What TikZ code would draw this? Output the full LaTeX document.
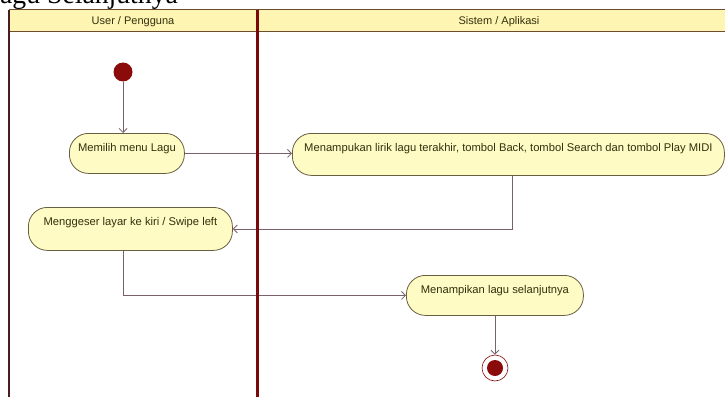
\documentclass[tikz,border=0pt]{standalone}
\usepackage{fontspec}
\setmainfont{Liberation Sans}
\newfontfamily\titlefont{Liberation Serif}
\usetikzlibrary{arrows.meta,calc}

\definecolor{headfill}{RGB}{255,245,178}
\definecolor{headline}{RGB}{110,76,48}
\definecolor{actfill}{RGB}{255,251,196}
\definecolor{actline}{RGB}{104,94,64}
\definecolor{acttext}{RGB}{50,48,14}
\definecolor{flowline}{RGB}{122,96,108}
\definecolor{nodered}{RGB}{139,10,10}
\definecolor{laneline}{RGB}{122,10,10}
\definecolor{edgeline}{RGB}{74,30,30}

\begin{document}
\begin{tikzpicture}[x=1pt,y=-1pt,
  act/.style={draw=actline, fill=actfill, line width=0.8pt, rounded corners=19pt,
    font=\fontsize{11.2}{13}\selectfont, text=acttext, anchor=north west,
    inner xsep=0pt, inner ysep=0pt, text height=18pt},
  flow/.style={draw=flowline, line width=0.8pt, -{Straight Barb[length=4pt,width=8pt]}},
  startdot/.style={circle, fill=nodered, minimum size=19pt, inner sep=0pt},
  endring/.style={circle, draw=nodered, line width=0.6pt, fill=white, minimum size=26pt, inner sep=0pt},
  enddot/.style={circle, fill=nodered, minimum size=16pt, inner sep=0pt},
  lanehead/.style={font=\fontsize{11}{13}\selectfont, text=acttext, inner sep=0pt}]
\useasboundingbox (0,0) rectangle (725,396);

% caption line above the diagram
\node[font=\titlefont\fontsize{27.7}{30}\selectfont, anchor=base west, inner sep=0pt]
  (caption) at (0,4) {agu Selanjutnya};

% swimlane header band
\path[draw=headline, line width=1pt, fill=headfill] (9,10) rectangle (732,32);
\node[lanehead] (userlane) at (133,21.5) {User / Pengguna};
\node[lanehead] (syslane) at (499,21.5) {Sistem / Aplikasi};

% activities
\node[act, minimum width=115pt, text depth=22pt] (a1) at (69,133) {Memilih menu Lagu};
\node[act, minimum width=432pt, text depth=24pt] (a2) at (292,133)
  {Menampukan lirik lagu terakhir, tombol Back, tombol Search dan tombol Play MIDI};
\node[act, minimum width=204pt, text depth=25pt] (a3) at (28,207) {Menggeser layar ke kiri / Swipe left};
\node[act, minimum width=177pt, text depth=22pt] (a4) at (406,275) {Menampikan lagu selanjutnya};

% start and end nodes
\node[startdot] (init) at (123,72) {};
\node[endring] (final) at (495,368) {};
\node[enddot] (finaldot) at (final) {};

% control flow
\draw[flow] (init) -- (init |- a1.north);
\draw[flow] (a1.east) -- (a1.east -| a2.west);
\draw[flow] ([xshift=4pt]a2.south) |- (a3.east);
\draw[flow] ([xshift=-7pt]a3.south) |- (a4.west);
\draw[flow] (a4.south) -- (a4.south |- final.north);

% lane borders
\draw[edgeline, line width=1.2pt] (9,10) -- (9,400);
\draw[laneline, line width=3pt] (257,10) -- (257,400);
\end{tikzpicture}
\end{document}
